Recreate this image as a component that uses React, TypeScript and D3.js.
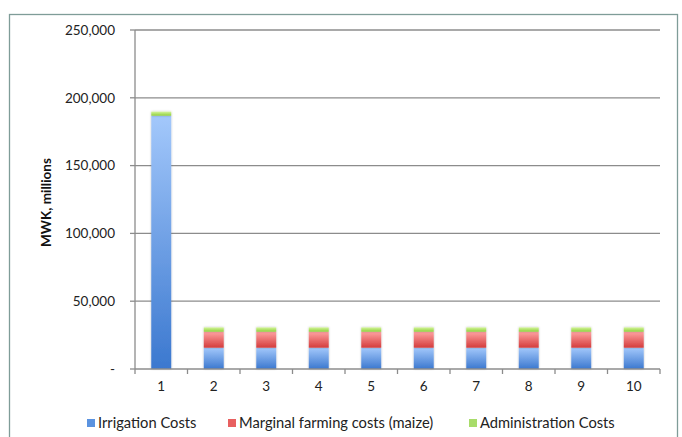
import React from "react";
import * as d3 from "d3";

const categories = ["1", "2", "3", "4", "5", "6", "7", "8", "9", "10"];
const irrigation = [186800, 15700, 15700, 15700, 15700, 15700, 15700, 15700, 15700, 15700];
const marginal = [0, 11800, 11800, 11800, 11800, 11800, 11800, 11800, 11800, 11800];
const admin = [3000, 3200, 3200, 3200, 3200, 3200, 3200, 3200, 3200, 3200];
const seriesNames = ["Irrigation Costs", "Marginal farming costs (maize)", "Administration Costs"];
const yTicks = [0, 50000, 100000, 150000, 200000, 250000];

const W = 682, H = 437;
const left = 135, right = 660, top = 30, bottom = 369;
const FONT = "Lato, 'Open Sans', sans-serif";

const grads = [
  { id: "gBlue", top: "#a3c8fb", bottom: "#3b78cf" },
  { id: "gRed", top: "#ffa3a3", bottom: "#d43c3c" },
  { id: "gGreen", top: "#d4f59a", bottom: "#8fcf3c" },
];
const legendColors = ["#5b93e0", "#e86060", "#a8dc6a"];

export default function App() {
  const x = d3.scaleBand<string>().domain(categories).range([left, right]).paddingInner(0.62).paddingOuter(0.31);
  const y = d3.scaleLinear().domain([0, 250000]).range([bottom, top]);
  const stackData = categories.map((c, i) => ({ cat: c, a: irrigation[i], b: marginal[i], c: admin[i] }));
  const stacked = d3.stack<any>().keys(["a", "b", "c"])(stackData);
  const step = (right - left) / categories.length;
  const fmt = (v: number) => (v === 0 ? "-" : d3.format(",")(v));
  const legendX = [87, 228, 469];

  return (
    <svg width={W} height={H} style={{ display: "block", position: "absolute", left: 0, top: 0 }}>
      <defs>
        {grads.map((g) => (
          <linearGradient key={g.id} id={g.id} x1="0" y1="0" x2="0" y2="1">
            <stop offset="0%" stopColor={g.top} />
            <stop offset="100%" stopColor={g.bottom} />
          </linearGradient>
        ))}
        <filter id="shadow" x="-30%" y="-5%" width="160%" height="110%">
          <feGaussianBlur in="SourceAlpha" stdDeviation="1.2" />
          <feOffset dx="0" dy="0" result="b" />
          <feComponentTransfer><feFuncA type="linear" slope="0.25" /></feComponentTransfer>
          <feMerge><feMergeNode /><feMergeNode in="SourceGraphic" /></feMerge>
        </filter>
      </defs>
      <rect x={0} y={0} width={W} height={H} fill="#fff" />
      <rect x={9.5} y={14.5} width={668} height={430} fill="#fff" stroke="#7f9c98" strokeWidth={1.3} />
      {yTicks.map((t) => (
        <g key={t}>
          {t > 0 && <line x1={left} x2={right} y1={y(t)} y2={y(t)} stroke="#8c8c8c" strokeWidth={1.3} />}
          <line x1={left - 5} x2={left} y1={y(t)} y2={y(t)} stroke="#8c8c8c" strokeWidth={1.3} />
          <text x={115} y={y(t)} dy="0.35em" textAnchor="end" fontFamily={FONT} fontSize={13.5} fill="#222">{fmt(t)}</text>
        </g>
      ))}
      {stacked.map((s, si) => (
        <g key={si} filter="url(#shadow)">
          {s.map((d, i) =>
            d[1] - d[0] > 0 ? (
              <rect key={i} x={x(categories[i])!} width={x.bandwidth()} y={y(d[1])} height={y(d[0]) - y(d[1])} fill={`url(#${grads[si].id})`} />
            ) : null
          )}
        </g>
      ))}
      <line x1={left} x2={left} y1={top} y2={bottom} stroke="#8c8c8c" strokeWidth={1.3} />
      <line x1={left} x2={right} y1={bottom} y2={bottom} stroke="#8c8c8c" strokeWidth={1.3} />
      {d3.range(categories.length + 1).map((i) => (
        <line key={i} x1={left + i * step} x2={left + i * step} y1={bottom} y2={bottom + 5} stroke="#8c8c8c" strokeWidth={1.3} />
      ))}
      {categories.map((c) => (
        <text key={c} x={x(c)! + x.bandwidth() / 2} y={386} dy="0.35em" textAnchor="middle" fontFamily={FONT} fontSize={13.5} fill="#222">{c}</text>
      ))}
      <text transform={`translate(46,${(top + bottom) / 2 + 3}) rotate(-90)`} textAnchor="middle" dy="0.35em" fontFamily={FONT} fontSize={13.5} fontWeight="bold" fill="#111">MWK, millions</text>
      {seriesNames.map((n, i) => (
        <g key={n}>
          <rect x={legendX[i]} y={419} width={8} height={8} fill={legendColors[i]} />
          <text x={legendX[i] + 11} y={423} dy="0.35em" fontFamily={FONT} fontSize={14.7} fill="#222">{n}</text>
        </g>
      ))}
    </svg>
  );
}
